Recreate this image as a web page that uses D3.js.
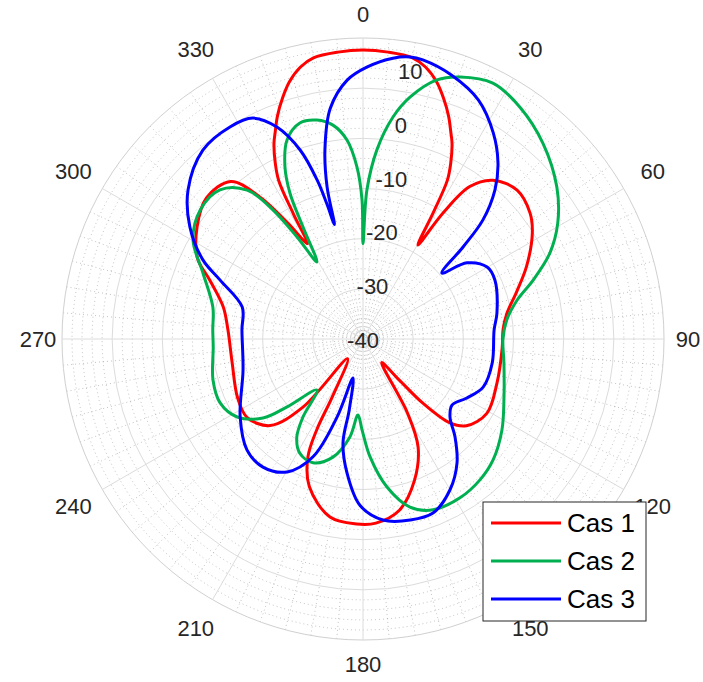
<!DOCTYPE html>
<html>
<head>
<meta charset="utf-8">
<script src="https://cdn.jsdelivr.net/npm/d3@7"></script>
<style>
  body { margin: 0; background: #fff; }
  svg text { font-family: "Liberation Sans", Arial, Helvetica, sans-serif; }
</style>
</head>
<body>
<div id="chart"></div>
<script>
// angle in degrees (clockwise from top), gain in dB
const cas1Theta = [0, 5, 10, 13, 16, 18.5, 21, 23, 24.5, 26.5, 28, 29.1, 30.3, 32.4, 35, 39.3, 46, 53, 58, 66, 73, 80, 86, 94, 108, 121, 130, 134, 137, 138.5, 141.6,
  149, 153, 160, 168, 176, 182, 190.5, 200, 205, 207, 208, 218, 221.4, 227, 236, 245, 260, 274, 283, 291, 296, 304, 312, 320, 324, 327, 329.8,
  330.9, 332, 333.5, 335.5, 337, 339, 341.5, 344, 347, 350, 355];
const cas1Gain = [17.6, 17.4, 16.9, 15.6, 13.3, 10.6, 7.6, 4.8, 2.8, -0.8, -4.2, -11.3, -18.3, -10.3, -2.9, 0.9, 2.7, 1.7, -0.2, -4.3, -8, -10.9, -12, -12.2, -11.9, -11.2, -13.1, -15.9, -22.5, -29, -34,
  -22.8, -15.8, -10, -5.1, -3.2, -3.1, -3.9, -8.7, -14, -19.7, -27, -35, -21.9, -14.7, -12.1, -12.4, -13.5, -13, -11.4, -7.3, -3.3, -0.1, 2.0, 1.0, -5, -12.4, -18,
  -11.5, -4.2, -0.8, 2.8, 4.8, 7.6, 10.6, 13.3, 15.6, 16.9, 17.4];

const cas2Theta = [0, 1.5, 4.2, 7.7, 11, 15.9, 20.3, 26.9, 34.1, 42.6, 51.9, 59.2, 65.3, 70.9, 75.8, 82.5, 90, 99.7, 112.4, 123.2, 132.9, 140.3, 148.6,
  157.7, 164.4, 170.8, 176.6, 180.6, 183.8, 187.6, 194.3, 202, 209, 214, 217.6, 222, 228.2, 231.7, 238.2, 245.9, 254.7, 266.9, 273.4, 282, 292.4,
  300.2, 308.4, 316.2, 322.1, 325.1, 327.1, 329.1, 331.8, 333.4, 335.6, 339.1, 343.7, 348.1, 352, 355.4, 358, 359.6];
const cas2Gain = [-21, -10.3, -2.2, 4.65, 9.1, 13.7, 15.7, 17.2, 15.8, 13.0, 9.1, 5.2, 1.0, -4.1, -8.3, -11.1, -12.1, -11.5, -9.6, -6.9, -4.6, -3.5, -2.9,
  -3.2, -5.2, -10.1, -16.5, -21.9, -24.8, -20.3, -15.7, -13.4, -14, -16.4, -20.4, -26.3, -19.7, -14.6, -10.5, -8.8, -9.0, -10.1, -10.0, -9.4, -5.5,
  -0.8, 1.4, 1.2, -2.4, -8.6, -15.8, -22.1, -14.7, -7.5, -2.35, 2.45, 4.85, 4.6, 3.05, -0.2, -5.7, -12.3];

const cas3Theta = [0.8, 6.1, 9.5, 12.1, 18.5, 25.8, 32.3, 37.5, 41.5, 45.2, 47.4, 50.1, 53.8, 59.9, 65.9, 79, 86, 100.5, 111.8, 119.6, 126.6, 131.9,
  136.8, 142.8, 150, 158.1, 165.4, 173.7, 181, 186.8, 190.9, 191, 194.4, 198.4, 203, 209.7, 218, 226.3, 237.6, 255.5, 274.3, 284.8, 292.4, 296.3,
  302.9, 310.4, 319.7, 327.9, 333.5, 337.9, 341.6, 343.9, 345.0, 346.0, 346.7, 348.6, 351.9, 356.5];
const cas3Gain = [14.2, 16.3, 17.0, 16.9, 15.5, 12.9, 8.6, 4.2, -0.3, -6.3, -12.9, -19.5, -14.3, -11.4, -11.2, -12.8, -13.8, -13.8, -14.2, -16.2, -17.9, -16.7,
  -13.2, -9.0, -5.3, -2.6, -2.7, -3.7, -6.8, -13.1, -18.9, -25.6, -32, -23.6, -14.5, -9.5, -7.6, -8.0, -11, -15.3, -15.8, -15.1, -9.2, -4.4,
  1.1, 5.8, 9.35, 9.9, 9.2, 5.6, -0.3, -7.0, -12.0, -16.5, -8.9, -1.6, 6.4, 11.7];

const seriesNames = ["Cas 1", "Cas 2", "Cas 3"];
const seriesColors = ["#ff0000", "#00b050", "#0000ff"];
const rTicks = [-40, -30, -20, -10, 0, 10, 20];
const thetaTicks = [0, 30, 60, 90, 120, 150, 180, 210, 240, 270, 300, 330];

const width = 703, height = 682;
const cx = 363, cy = 339, R = 301;

const svg = d3.select("#chart").append("svg")
    .attr("width", width)
    .attr("height", height);

const g = svg.append("g").attr("transform", `translate(${cx},${cy})`);

const r = d3.scaleLinear().domain([-40, 20]).range([0, R]);
const rad = d => d * Math.PI / 180;

// minor grid
const minorR = d3.range(-38, 20, 2).filter(v => v % 10 !== 0);
g.selectAll(".minor-ring").data(minorR).enter().append("circle")
    .attr("r", d => r(d))
    .attr("fill", "none")
    .attr("stroke", "#9a9a9a")
    .attr("stroke-width", 0.6)
    .attr("stroke-dasharray", "1,3");

const minorT = d3.range(0, 360, 5).filter(v => v % 30 !== 0);
g.selectAll(".minor-spoke").data(minorT).enter().append("line")
    .attr("x1", 0).attr("y1", 0)
    .attr("x2", d => R * Math.sin(rad(d)))
    .attr("y2", d => -R * Math.cos(rad(d)))
    .attr("stroke", "#9a9a9a")
    .attr("stroke-width", 0.6)
    .attr("stroke-dasharray", "1,3");

// major grid
g.selectAll(".ring").data(rTicks.slice(1)).enter().append("circle")
    .attr("r", d => r(d))
    .attr("fill", "none")
    .attr("stroke", d => d === 20 ? "#d0d0d0" : "#dcdcdc")
    .attr("stroke-width", 1);

g.selectAll(".spoke").data(thetaTicks).enter().append("line")
    .attr("x1", 0).attr("y1", 0)
    .attr("x2", d => R * Math.sin(rad(d)))
    .attr("y2", d => -R * Math.cos(rad(d)))
    .attr("stroke", "#dcdcdc")
    .attr("stroke-width", 1);

// theta labels
const tr = d => 325 + 11 * Math.abs(Math.sin(rad(2 * d)));
g.selectAll(".tlabel").data(thetaTicks).enter().append("text")
    .attr("x", d => tr(d) * Math.sin(rad(d)))
    .attr("y", d => -tr(d) * Math.cos(rad(d)))
    .attr("text-anchor", "middle")
    .attr("dominant-baseline", "central")
    .attr("fill", "#262626")
    .style("font-size", "22px")
    .text(d => d);

// r labels
g.selectAll(".rlabel").data(rTicks.slice(0, -1)).enter().append("text")
    .attr("x", d => r(d) * 1.085 * Math.sin(rad(10)))
    .attr("y", d => -r(d) * 1.085 * Math.cos(rad(10)) + 1)
    .attr("text-anchor", "middle")
    .attr("dominant-baseline", "central")
    .attr("fill", "#262626")
    .style("font-size", "22px")
    .text(d => d);

// curves
const series = [
    { name: seriesNames[0], color: seriesColors[0], theta: cas1Theta, gain: cas1Gain },
    { name: seriesNames[1], color: seriesColors[1], theta: cas2Theta, gain: cas2Gain },
    { name: seriesNames[2], color: seriesColors[2], theta: cas3Theta, gain: cas3Gain }
];

const line = d3.lineRadial()
    .angle(d => rad(d[0]))
    .radius(d => r(d[1]))
    .curve(d3.curveCatmullRomClosed.alpha(0.5));

g.selectAll(".curve").data(series).enter().append("path")
    .attr("d", s => line(s.theta.map((t, i) => [t, s.gain[i]])))
    .attr("fill", "none")
    .attr("stroke", s => s.color)
    .attr("stroke-width", 3)
    .attr("stroke-linejoin", "round");

// legend
const legend = svg.append("g").attr("transform", "translate(483,502)");
legend.append("rect")
    .attr("width", 163).attr("height", 119)
    .attr("fill", "#fff")
    .attr("stroke", "#262626")
    .attr("stroke-width", 1);

const items = legend.selectAll(".item").data(series).enter().append("g")
    .attr("transform", (d, i) => `translate(0,${21 + i * 38})`);
items.append("line")
    .attr("x1", 8).attr("x2", 78)
    .attr("stroke", d => d.color)
    .attr("stroke-width", 3);
items.append("text")
    .attr("x", 84)
    .attr("dominant-baseline", "central")
    .attr("fill", "#000")
    .style("font-size", "26px")
    .text(d => d.name);
</script>
</body>
</html>
